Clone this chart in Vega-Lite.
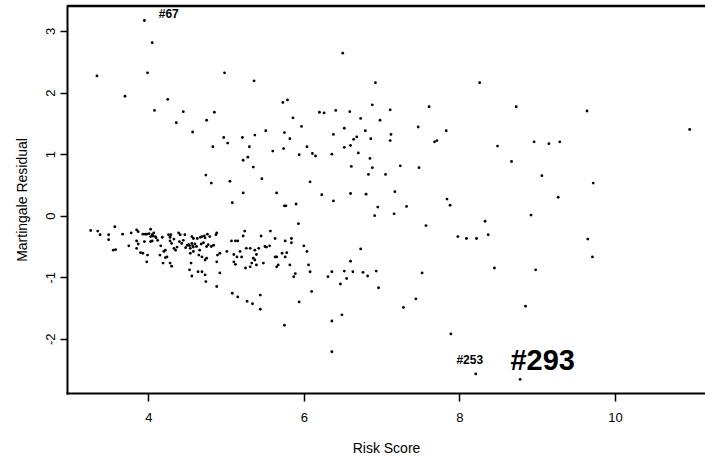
{
  "$schema": "https://vega.github.io/schema/vega-lite/v6.json",
  "width": 638,
  "height": 387,
  "autosize": {"type": "none"},
  "padding": {"left": 67, "top": 6, "right": 0, "bottom": 68},
  "background": "white",
  "config": {
    "view": {"stroke": null},
    "axis": {
      "grid": false,
      "domainColor": "#000",
      "domainCap": "square",
      "tickColor": "#000",
      "labelColor": "#000",
      "titleColor": "#000",
      "labelFont": "Liberation Sans",
      "titleFont": "Liberation Sans",
      "labelFontSize": 13,
      "titleFontSize": 14,
      "titleFontWeight": "normal",
      "domainWidth": 2,
      "tickWidth": 1.5
    }
  },
  "datasets": {
    "pts": [
      {"x":3.95,"y":3.17},{"x":4.05,"y":2.81},{"x":3.34,"y":2.27},{"x":3.99,"y":2.32},{"x":3.70,"y":1.94},{"x":4.25,"y":1.89},{"x":4.08,"y":1.71},{"x":4.45,"y":1.69},{"x":4.36,"y":1.51},{"x":4.85,"y":1.68},{"x":4.75,"y":1.55},{"x":4.57,"y":1.36},{"x":4.98,"y":2.32},{"x":5.36,"y":2.19},{"x":4.97,"y":1.27},{"x":5.02,"y":1.18},{"x":4.83,"y":1.12},{"x":5.21,"y":1.27},{"x":5.37,"y":1.31},{"x":5.30,"y":1.12},{"x":5.22,"y":0.90},{"x":5.28,"y":0.95},{"x":5.35,"y":0.79},{"x":5.51,"y":1.38},{"x":5.60,"y":1.05},{"x":5.73,"y":1.84},{"x":5.79,"y":1.88},{"x":5.86,"y":1.59},{"x":5.75,"y":1.35},{"x":5.82,"y":1.25},{"x":5.74,"y":1.09},{"x":5.97,"y":1.45},{"x":5.94,"y":0.99},{"x":6.04,"y":1.12},{"x":6.11,"y":1.01},{"x":6.15,"y":0.97},{"x":6.20,"y":1.68},{"x":6.26,"y":1.67},{"x":6.41,"y":1.71},{"x":6.59,"y":1.69},{"x":6.50,"y":2.64},{"x":6.38,"y":1.32},{"x":6.52,"y":1.42},{"x":6.36,"y":1.00},{"x":6.52,"y":1.11},{"x":6.60,"y":1.14},{"x":6.64,"y":1.24},{"x":6.68,"y":1.28},{"x":6.70,"y":1.02},{"x":6.73,"y":1.58},{"x":6.61,"y":0.80},{"x":4.74,"y":0.66},{"x":4.81,"y":0.53},{"x":5.05,"y":0.56},{"x":5.08,"y":0.21},{"x":5.22,"y":0.37},{"x":5.46,"y":0.60},{"x":5.65,"y":0.37},{"x":5.75,"y":0.16},{"x":5.77,"y":0.16},{"x":5.90,"y":0.19},{"x":5.93,"y":-0.13},{"x":6.08,"y":0.55},{"x":6.23,"y":0.34},{"x":6.38,"y":0.24},{"x":6.60,"y":0.36},
      {"x":6.92,"y":2.16},{"x":8.26,"y":2.16},{"x":6.88,"y":1.80},{"x":7.11,"y":1.72},{"x":7.61,"y":1.77},{"x":8.73,"y":1.77},{"x":9.64,"y":1.70},{"x":10.96,"y":1.40},{"x":6.98,"y":1.55},{"x":6.79,"y":1.38},{"x":7.47,"y":1.44},{"x":7.83,"y":1.38},{"x":6.86,"y":1.25},{"x":7.12,"y":1.32},{"x":7.11,"y":1.22},{"x":7.68,"y":1.20},{"x":7.71,"y":1.22},{"x":8.49,"y":1.13},{"x":8.96,"y":1.20},{"x":9.15,"y":1.17},{"x":9.29,"y":1.20},{"x":6.85,"y":0.93},{"x":6.88,"y":0.78},{"x":6.83,"y":0.67},{"x":7.05,"y":0.67},{"x":7.24,"y":0.81},{"x":7.48,"y":0.78},{"x":8.67,"y":0.88},{"x":9.06,"y":0.65},{"x":9.72,"y":0.53},{"x":6.80,"y":0.35},{"x":7.17,"y":0.39},{"x":6.95,"y":0.14},{"x":6.91,"y":0.00},{"x":7.16,"y":0.03},{"x":7.32,"y":0.15},{"x":7.84,"y":0.27},{"x":7.88,"y":0.17},{"x":9.27,"y":0.30},{"x":8.92,"y":0.01},{"x":7.57,"y":-0.16},{"x":8.33,"y":-0.09},{"x":7.98,"y":-0.34},{"x":8.09,"y":-0.37},{"x":8.22,"y":-0.37},{"x":8.37,"y":-0.31},{"x":9.65,"y":-0.38},
      {"x":9.71,"y":-0.67},{"x":6.73,"y":-0.54},{"x":6.60,"y":-0.74},{"x":6.52,"y":-0.90},{"x":6.63,"y":-0.91},{"x":6.76,"y":-0.92},{"x":6.82,"y":-0.98},{"x":6.93,"y":-0.90},{"x":6.55,"y":-1.02},{"x":6.47,"y":-1.11},{"x":6.96,"y":-1.17},{"x":7.52,"y":-0.93},{"x":8.45,"y":-0.85},{"x":8.98,"y":-0.88},{"x":7.44,"y":-1.35},{"x":7.28,"y":-1.49},{"x":6.49,"y":-1.61},{"x":8.85,"y":-1.47},{"x":7.89,"y":-1.92},{"x":8.21,"y":-2.57},{"x":8.78,"y":-2.66},
      {"x":3.26,"y":-0.24},{"x":3.35,"y":-0.25},{"x":3.38,"y":-0.31},{"x":3.49,"y":-0.31},{"x":3.57,"y":-0.18},{"x":3.67,"y":-0.30},{"x":3.78,"y":-0.28},{"x":3.85,"y":-0.23},{"x":3.87,"y":-0.26},{"x":3.93,"y":-0.30},{"x":3.98,"y":-0.30},{"x":4.03,"y":-0.22},{"x":4.05,"y":-0.31},{"x":4.07,"y":-0.28},{"x":4.09,"y":-0.34},{"x":4.03,"y":-0.34},{"x":4.18,"y":-0.35},{"x":4.26,"y":-0.31},{"x":4.29,"y":-0.31},{"x":4.39,"y":-0.28},{"x":4.41,"y":-0.31},{"x":4.47,"y":-0.31},{"x":4.56,"y":-0.34},{"x":4.58,"y":-0.37},{"x":4.67,"y":-0.35},{"x":4.69,"y":-0.34},{"x":4.72,"y":-0.33},{"x":4.76,"y":-0.30},{"x":4.79,"y":-0.34},{"x":4.88,"y":-0.28},{"x":4.87,"y":-0.31},{"x":5.07,"y":-0.41},{"x":5.12,"y":-0.41},{"x":5.15,"y":-0.41},{"x":5.24,"y":-0.25},{"x":5.22,"y":-0.33},{"x":5.45,"y":-0.33},{"x":5.57,"y":-0.25},{"x":5.63,"y":-0.37},{"x":5.76,"y":-0.41},{"x":5.84,"y":-0.37},{"x":5.84,"y":-0.44},
      {"x":3.49,"y":-0.39},{"x":3.58,"y":-0.55},{"x":3.55,"y":-0.56},{"x":3.75,"y":-0.49},{"x":3.85,"y":-0.41},{"x":3.87,"y":-0.46},{"x":3.95,"y":-0.42},{"x":4.03,"y":-0.42},{"x":4.05,"y":-0.41},{"x":4.16,"y":-0.49},{"x":4.20,"y":-0.58},{"x":4.22,"y":-0.56},{"x":4.28,"y":-0.41},{"x":4.30,"y":-0.45},{"x":4.33,"y":-0.53},{"x":4.35,"y":-0.56},{"x":4.37,"y":-0.51},{"x":4.40,"y":-0.42},{"x":4.43,"y":-0.45},{"x":4.50,"y":-0.48},{"x":4.53,"y":-0.49},{"x":4.54,"y":-0.53},{"x":4.56,"y":-0.45},{"x":4.58,"y":-0.51},{"x":4.62,"y":-0.50},{"x":4.66,"y":-0.56},{"x":4.68,"y":-0.46},{"x":4.71,"y":-0.44},{"x":4.75,"y":-0.50},{"x":4.81,"y":-0.50},{"x":4.84,"y":-0.48},{"x":5.01,"y":-0.58},{"x":5.10,"y":-0.63},{"x":5.18,"y":-0.58},{"x":5.26,"y":-0.53},{"x":5.31,"y":-0.53},{"x":5.37,"y":-0.56},{"x":5.39,"y":-0.63},{"x":5.42,"y":-0.53},{"x":5.50,"y":-0.50},{"x":5.52,"y":-0.51},{"x":5.56,"y":-0.49},{"x":5.65,"y":-0.67},{"x":5.72,"y":-0.61},{"x":5.78,"y":-0.60},{"x":6.00,"y":-0.49},{"x":6.04,"y":-0.58},
      {"x":3.85,"y":-0.53},{"x":3.90,"y":-0.60},{"x":3.98,"y":-0.75},{"x":4.15,"y":-0.64},{"x":4.19,"y":-0.77},{"x":4.22,"y":-0.68},{"x":4.24,"y":-0.67},{"x":4.28,"y":-0.77},{"x":4.30,"y":-0.82},{"x":4.54,"y":-0.61},{"x":4.58,"y":-0.58},{"x":4.65,"y":-0.64},{"x":4.69,"y":-0.67},{"x":4.73,"y":-0.72},{"x":4.75,"y":-0.69},{"x":4.89,"y":-0.64},{"x":4.92,"y":-0.61},{"x":4.88,"y":-0.75},{"x":5.10,"y":-0.75},{"x":5.12,"y":-0.79},{"x":5.14,"y":-0.67},{"x":5.20,"y":-0.67},{"x":5.25,"y":-0.85},{"x":5.31,"y":-0.83},{"x":5.33,"y":-0.77},{"x":5.35,"y":-0.69},{"x":5.37,"y":-0.72},{"x":5.39,"y":-0.80},{"x":5.48,"y":-0.77},{"x":5.63,"y":-0.67},{"x":5.65,"y":-0.83},{"x":5.67,"y":-0.80},{"x":5.76,"y":-0.67},{"x":5.82,"y":-0.80},{"x":5.87,"y":-0.99},{"x":5.89,"y":-0.94},{"x":6.06,"y":-0.80},{"x":6.08,"y":-0.91},{"x":6.31,"y":-0.99},{"x":6.36,"y":-0.91},
      {"x":4.53,"y":-0.88},{"x":4.55,"y":-0.77},{"x":4.56,"y":-0.98},{"x":4.64,"y":-0.91},{"x":4.69,"y":-0.91},{"x":4.73,"y":-0.96},{"x":4.74,"y":-1.07},{"x":4.88,"y":-1.15},{"x":4.92,"y":-0.93},{"x":6.10,"y":-1.23},{"x":5.08,"y":-1.26},{"x":5.15,"y":-1.32},{"x":5.27,"y":-1.39},{"x":5.34,"y":-1.43},{"x":5.44,"y":-1.29},{"x":5.44,"y":-1.52},{"x":5.94,"y":-1.40},{"x":5.75,"y":-1.78},{"x":6.36,"y":-1.71},{"x":6.36,"y":-2.21},
      {"x":4.01,"y":-0.29},{"x":4.06,"y":-0.33},{"x":4.52,"y":-0.47},{"x":4.57,"y":-0.49},{"x":4.60,"y":-0.46},{"x":4.73,"y":-0.36},{"x":4.63,"y":-0.37},{"x":4.45,"y":-0.40},{"x":4.33,"y":-0.38},{"x":4.12,"y":-0.40},{"x":3.96,"y":-0.30},{"x":4.10,"y":-0.36},{"x":4.28,"y":-0.35},{"x":4.48,"y":-0.52},{"x":4.77,"y":-0.47},{"x":3.93,"y":-0.61},{"x":3.99,"y":-0.64}
    ],
    "frame": [
      {"x0": 2.955, "x1": 11.157, "y0": 3.406, "edge": "top"}
    ],
    "small": [
      {"label": "#67", "x": 4.263, "y": 3.27},
      {"label": "#253", "x": 8.133, "y": -2.336}
    ],
    "big": [
      {"label": "#293", "x": 9.07, "y": -2.36}
    ]
  },
  "layer": [
    {
      "data": {"name": "pts"},
      "mark": {"type": "point", "filled": true, "shape": "circle", "size": 8, "color": "#000", "opacity": 1},
      "encoding": {
        "x": {
          "field": "x", "type": "quantitative",
          "scale": {"domain": [2.955, 11.157], "nice": false, "zero": false},
          "axis": {"orient": "bottom", "values": [4, 6, 8, 10], "format": "d", "tickSize": 8, "labelPadding": 10, "title": "Risk Score", "titlePadding": 17, "labelFlush": false}
        },
        "y": {
          "field": "y", "type": "quantitative",
          "scale": {"domain": [-2.88, 3.406], "nice": false, "zero": false},
          "axis": {"values": [-2, -1, 0, 1, 2, 3], "tickSize": 7, "labelAngle": -90, "labelAlign": "center", "labelBaseline": "bottom", "labelPadding": 3, "labelExpr": "datum.value", "title": "Martingale Residual", "titlePadding": 15, "labelFlush": false}
        }
      }
    },
    {
      "data": {"name": "frame"},
      "mark": {"type": "rule", "strokeWidth": 2.5},
      "encoding": {
        "x": {"field": "x0", "type": "quantitative"},
        "x2": {"field": "x1"},
        "y": {"field": "y0", "type": "quantitative"},
        "color": {"field": "edge", "type": "nominal", "scale": {"range": ["#000000"]}, "legend": null}
      }
    },
    {
      "data": {"name": "small"},
      "mark": {"type": "text", "font": "Liberation Sans", "fontWeight": "bold", "fontSize": 12, "color": "#000", "align": "center", "baseline": "middle"},
      "encoding": {
        "x": {"field": "x", "type": "quantitative"},
        "y": {"field": "y", "type": "quantitative"},
        "text": {"field": "label"}
      }
    },
    {
      "data": {"name": "big"},
      "mark": {"type": "text", "font": "Liberation Sans", "fontWeight": "bold", "fontSize": 29, "color": "#000", "align": "center", "baseline": "middle"},
      "encoding": {
        "x": {"field": "x", "type": "quantitative"},
        "y": {"field": "y", "type": "quantitative"},
        "text": {"field": "label"}
      }
    }
  ]
}
